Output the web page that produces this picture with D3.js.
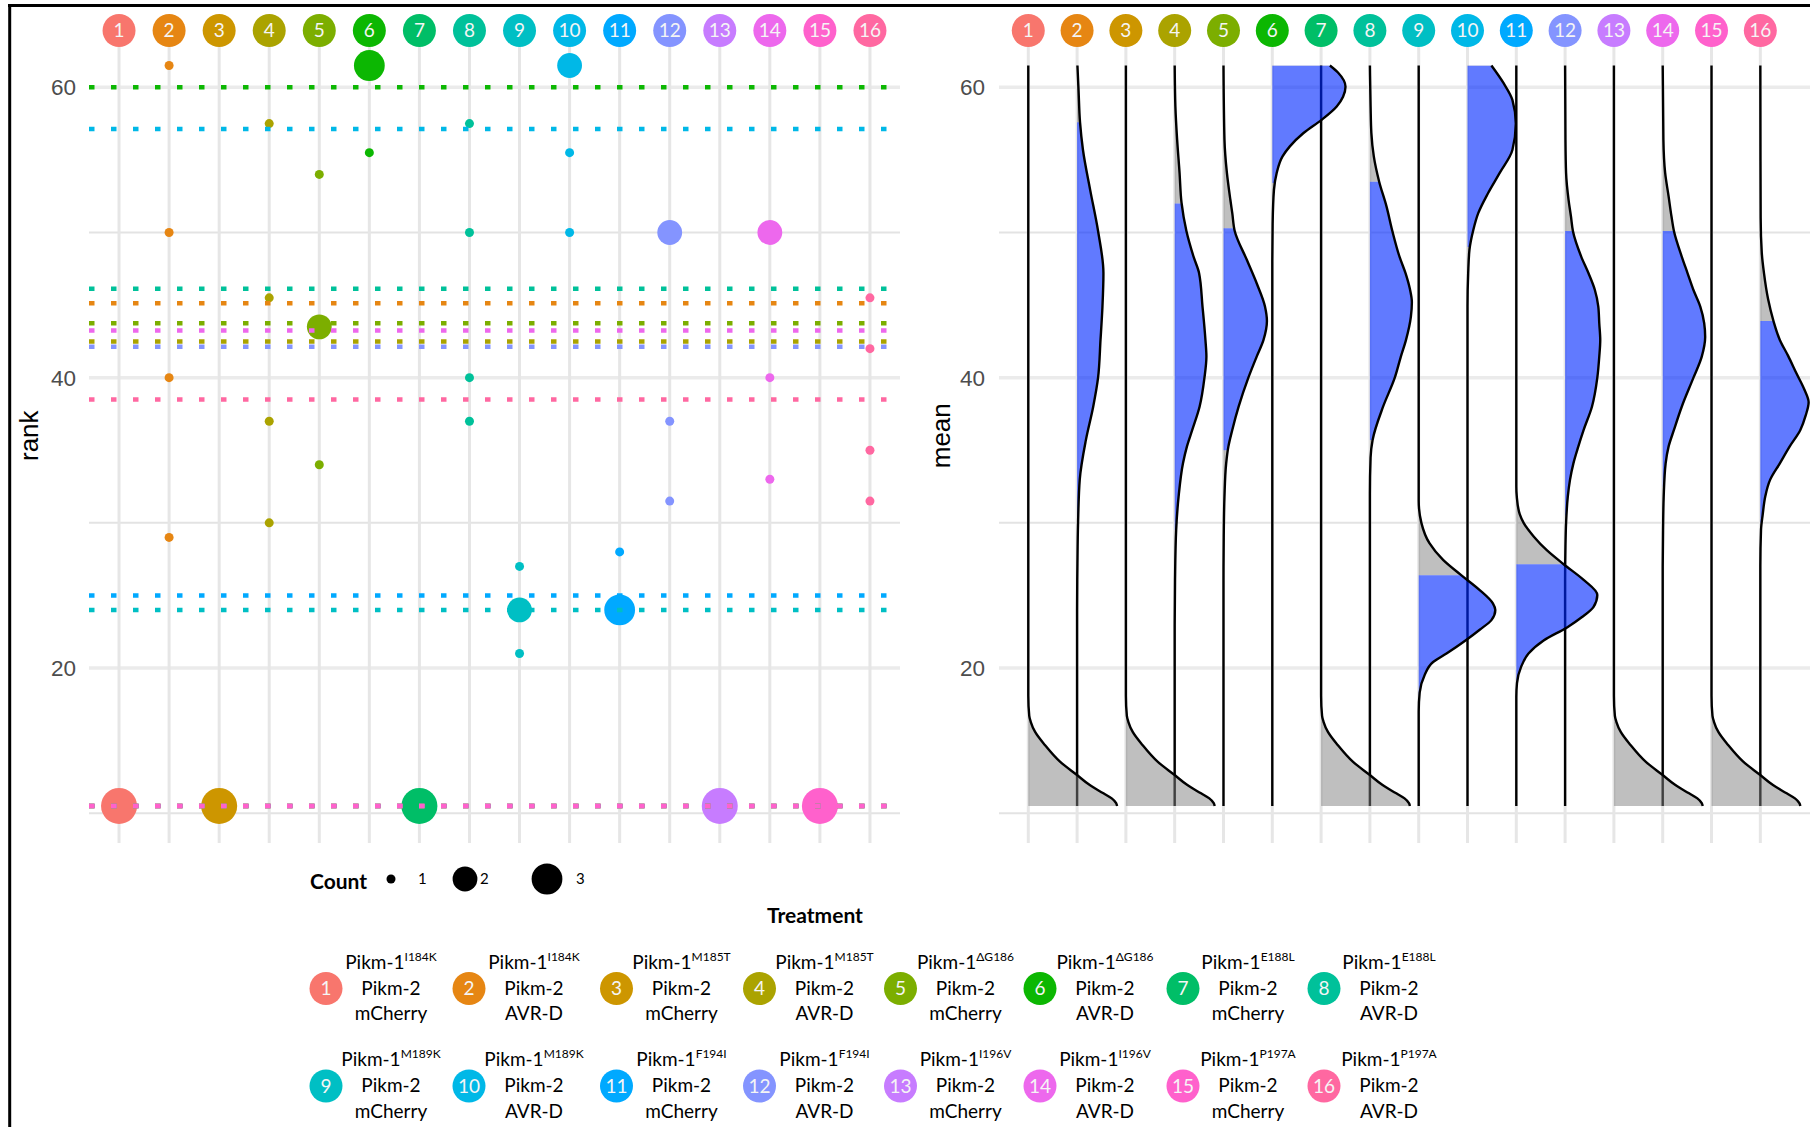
<!DOCTYPE html>
<html>
<head>
<meta charset="utf-8">
<script src="https://cdn.jsdelivr.net/npm/d3@7"></script>
<style>
  html, body { margin: 0; padding: 0; background: #fff; }
  svg { display: block; }
</style>
</head>
<body>
<svg id="chart" width="1810" height="1127"></svg>
<script>
// ---------- data ----------
const treatmentIds = d3.range(1, 17).map(String);
const pikm1Alleles = ["I184K", "I184K", "M185T", "M185T", "ΔG186", "ΔG186", "E188L", "E188L",
                      "M189K", "M189K", "F194I", "F194I", "I196V", "I196V", "P197A", "P197A"];
const effectors = ["mCherry", "AVR-D", "mCherry", "AVR-D", "mCherry", "AVR-D", "mCherry", "AVR-D",
                   "mCherry", "AVR-D", "mCherry", "AVR-D", "mCherry", "AVR-D", "mCherry", "AVR-D"];
const treatmentColors = ["#F8766D", "#E68613", "#CD9600", "#ABA300", "#7CAE00", "#0CB702", "#00BE67", "#00C19A",
                         "#00BFC4", "#00B8E7", "#00A9FF", "#8494FF", "#C77CFF", "#ED68ED", "#FF61CC", "#FF68A1"];

// observed ranks: [treatment, rank, number of replicates sharing that rank]
const rankObservations = [
  ["1", 10.5, 4],
  ["2", 61.5, 1], ["2", 50, 1], ["2", 40, 1], ["2", 29, 1],
  ["3", 10.5, 4],
  ["4", 57.5, 1], ["4", 45.5, 1], ["4", 37, 1], ["4", 30, 1],
  ["5", 54, 1], ["5", 43.5, 2], ["5", 34, 1],
  ["6", 61.5, 3], ["6", 55.5, 1],
  ["7", 10.5, 4],
  ["8", 57.5, 1], ["8", 50, 1], ["8", 40, 1], ["8", 37, 1],
  ["9", 27, 1], ["9", 24, 2], ["9", 21, 1],
  ["10", 61.5, 2], ["10", 55.5, 1], ["10", 50, 1],
  ["11", 28, 1], ["11", 24, 3],
  ["12", 50, 2], ["12", 37, 1], ["12", 31.5, 1],
  ["13", 10.5, 4],
  ["14", 50, 2], ["14", 40, 1], ["14", 33, 1],
  ["15", 10.5, 4],
  ["16", 45.5, 1], ["16", 42, 1], ["16", 35, 1], ["16", 31.5, 1]
];

const yTicks = [20, 40, 60];
const yMinorTicks = [10, 30, 50];
const countBreaks = [1, 2, 3];

// distribution of the mean rank: [mean, density (in column widths)]
const meanDensityLow = [[61.5, 0], [18.1, 0], [16.7, 0.02], [16.3, 0.05], [15.6, 0.14], [14.7, 0.34],
  [13.55, 0.65], [12.63, 1.0], [11.94, 1.26], [11.37, 1.54], [11.02, 1.71], [10.7, 1.8], [10.5, 1.82]];
const meanDensity2 = [[61.5, 0.007], [59.8, 0.03], [57.6, 0.06], [55.7, 0.12], [52.9, 0.27], [50.1, 0.43],
  [47.2, 0.54], [44.9, 0.52], [42.6, 0.48], [40, 0.43], [38, 0.33], [35.7, 0.18], [33, 0.055], [30, 0.02],
  [27.2, 0.007], [24, 0], [10.5, 0]];
const meanDensity4 = [[61.5, 0], [58.7, 0.014], [56.4, 0.05], [54.1, 0.1], [52.05, 0.14], [50.1, 0.24],
  [48.3, 0.39], [47.2, 0.5], [44.9, 0.57], [42.6, 0.63], [41.45, 0.65], [40, 0.61], [38, 0.51], [36.4, 0.36],
  [35.25, 0.25], [34.1, 0.17], [31.8, 0.08], [29.5, 0.03], [26.1, 0.007], [23, 0], [10.5, 0]];
const meanDensity5 = [[61.5, 0], [56.4, 0.02], [54.1, 0.07], [52.27, 0.14], [51.33, 0.18], [50.1, 0.23],
  [48.1, 0.48], [46.5, 0.68], [44.9, 0.85], [43.9, 0.89], [42.6, 0.82], [41.45, 0.68], [40, 0.51], [38, 0.31],
  [36.4, 0.18], [35.25, 0.1], [34.1, 0.055], [31.8, 0.02], [29, 0.005], [26, 0], [10.5, 0]];
const meanDensity6 = [[61.5, 1.18], [61.0, 1.35], [60.04, 1.5], [59.35, 1.45], [58.68, 1.32], [57.76, 1.01],
  [56.85, 0.64], [55.93, 0.36], [55.24, 0.21], [54.1, 0.09], [52.93, 0.034], [50.6, 0.007], [48, 0], [10.5, 0]];
const meanDensity8 = [[61.5, 0], [58.7, 0.014], [56.85, 0.03], [55.24, 0.08], [53.5, 0.19], [51.8, 0.34],
  [50.1, 0.46], [48.3, 0.61], [47.2, 0.73], [46.1, 0.82], [45.2, 0.86], [44.2, 0.84], [42.6, 0.74],
  [41.4, 0.63], [40, 0.51], [38, 0.27], [35.7, 0.055], [34.5, 0.014], [32, 0], [10.5, 0]];
const meanDensity9 = [[61.5, 0], [31.5, 0], [30.0, 0.055], [28.6, 0.22], [27.45, 0.5], [26.4, 0.87],
  [25.37, 1.25], [24.45, 1.52], [24.0, 1.57], [23.3, 1.49], [22.64, 1.25], [21.95, 0.98], [21.0, 0.57],
  [20.4, 0.29], [19.5, 0.12], [18.3, 0.02], [17.0, 0], [10.5, 0]];
const meanDensity10 = [[61.5, 0.49], [60.28, 0.74], [59.13, 0.92], [57.5, 0.99], [55.68, 0.92], [54.1, 0.66],
  [52.7, 0.42], [51.33, 0.22], [50.19, 0.12], [48.8, 0.04], [47.2, 0.014], [44.9, 0], [10.5, 0]];
const meanDensity11 = [[61.5, 0], [32.5, 0], [31.8, 0.01], [30.6, 0.07], [30.0, 0.15], [29.05, 0.36],
  [28.1, 0.63], [27.15, 0.97], [26.07, 1.38], [25.03, 1.66], [24.2, 1.58], [23.5, 1.34], [22.8, 1.04],
  [21.9, 0.56], [21.0, 0.25], [20.1, 0.1], [18.96, 0.014], [18, 0], [10.5, 0]];
const meanDensity12 = [[61.5, 0], [56.39, 0.007], [54.1, 0.02], [52.27, 0.07], [51.1, 0.12], [50.1, 0.16],
  [48.34, 0.33], [47.19, 0.48], [46.04, 0.61], [44.9, 0.68], [43.75, 0.7], [42.6, 0.72], [41.45, 0.7],
  [40, 0.66], [38, 0.55], [36.4, 0.38], [35.25, 0.27], [34.1, 0.17], [32.96, 0.1], [31.8, 0.055],
  [30, 0.02], [28.4, 0.007], [26, 0], [10.5, 0]];
const meanDensity14 = [[61.5, 0], [56.39, 0.014], [54.1, 0.05], [52.5, 0.12], [51.1, 0.18], [50.1, 0.23],
  [48.34, 0.39], [47.19, 0.51], [46.04, 0.63], [44.9, 0.77], [43.75, 0.85], [42.8, 0.87], [41.45, 0.8],
  [40, 0.63], [38, 0.39], [36.4, 0.23], [35.25, 0.12], [34.1, 0.06], [31.8, 0.02], [29.5, 0.007], [27, 0], [10.5, 0]];
const meanDensity16 = [[61.5, 0], [51, 0.007], [48.6, 0.03], [47.2, 0.075], [45.4, 0.16], [43.9, 0.27],
  [42.6, 0.4], [41.5, 0.57], [40.3, 0.74], [39.2, 0.9], [38.3, 0.99], [37.4, 0.93], [36.4, 0.82],
  [35.25, 0.6], [34.1, 0.4], [32.96, 0.2], [31.8, 0.1], [30.6, 0.05], [29.5, 0.014], [27, 0], [10.5, 0]];

const meanDensities = [meanDensityLow, meanDensity2, meanDensityLow, meanDensity4, meanDensity5, meanDensity6,
  meanDensityLow, meanDensity8, meanDensity9, meanDensity10, meanDensity11, meanDensity12,
  meanDensityLow, meanDensity14, meanDensityLow, meanDensity16];

// highlighted interval of each mean distribution: [low, high] (null = none)
const meanIntervals = [null, [29.5, 57.6], null, [29.5, 52.0], [35.0, 50.3], [53.4, 61.5], null, [35.7, 53.5],
  [18.1, 26.4], [49.0, 61.5], [19.0, 27.15], [30.5, 50.1], null, [32.5, 50.1], null, [30.0, 43.9]];

// ---------- layout ----------
const W = 1810, H = 1127;
const svg = d3.select("#chart");
svg.append("rect").attr("width", W).attr("height", H).attr("fill", "#fff");
const defs = svg.append("defs");

const color = d3.scaleOrdinal().domain(treatmentIds).range(treatmentColors);
const [rMin, rMax] = d3.extent(rankObservations, d => d[1]);
const rPad = (rMax - rMin) * 0.05;
const y = d3.scaleLinear().domain([rMin - rPad, rMax + rPad]).range([843, 28.5]);

const xLeft = d3.scalePoint().domain(treatmentIds).range([89, 900]).padding(0.6);
const xRight = d3.scalePoint().domain(treatmentIds).range([999, 1789.6]).padding(0.6);
const wScale = d3.scaleLinear().domain([0, 1]).range([0, xRight.step()]);
const size = d3.scaleLinear().domain([1, 2, 3, 4]).range([4.5, 12.4, 15.4, 18]);

const tickFont = "'Liberation Sans', Arial, sans-serif";
const legendFont = "Lato, 'Open Sans', sans-serif";
const headerY = 30.5;

function drawGrid(g, x, x0, x1) {
  const gridVals = yMinorTicks.concat(yTicks);
  g.selectAll("line.hgrid").data(gridVals).join("line").attr("class", "hgrid")
    .attr("x1", x0).attr("x2", x1)
    .attr("y1", d => y(d)).attr("y2", d => y(d))
    .attr("stroke", d => yTicks.includes(d) ? "#EBEBEB" : "#E3E3E3")
    .attr("stroke-width", d => yTicks.includes(d) ? 3.5 : 2);
  g.selectAll("line.vgrid").data(treatmentIds).join("line").attr("class", "vgrid")
    .attr("x1", d => x(d)).attr("x2", d => x(d))
    .attr("y1", headerY).attr("y2", y.range()[0])
    .attr("stroke", "#E6E6E6").attr("stroke-width", 3);
}

function drawTicks(g, xRightEdge) {
  g.selectAll("text.tick").data(yTicks).join("text").attr("class", "tick")
    .attr("x", xRightEdge).attr("y", d => y(d)).attr("dy", "0.36em")
    .attr("text-anchor", "end")
    .attr("font-family", tickFont).attr("font-size", 22.5).attr("fill", "#4D4D4D")
    .text(d => d);
}

function drawHeaders(g, x) {
  const hg = g.selectAll("g.hdr").data(treatmentIds).join("g").attr("class", "hdr")
    .attr("transform", d => `translate(${x(d)},${headerY})`);
  hg.append("circle").attr("r", 16.5).attr("fill", d => color(d));
  hg.append("text").text(d => d)
    .attr("text-anchor", "middle").attr("dy", "0.36em")
    .attr("fill", "#F5F5F5").attr("font-family", legendFont).attr("font-size", 19);
}

// ---------- left panel: ranks ----------
const left = svg.append("g");
drawGrid(left, xLeft, 89, 900);
drawTicks(left, 76);

left.selectAll("circle.obs").data(rankObservations).join("circle").attr("class", "obs")
  .attr("cx", d => xLeft(d[0])).attr("cy", d => y(d[1]))
  .attr("r", d => size(d[2])).attr("fill", d => color(d[0]));

const rankMeans = treatmentIds.map(id => {
  const obs = rankObservations.filter(d => d[0] === id);
  return [id, d3.sum(obs, d => d[1] * d[2]) / d3.sum(obs, d => d[2])];
});
left.selectAll("line.mean").data(rankMeans).join("line").attr("class", "mean")
  .attr("x1", 89).attr("x2", 900)
  .attr("y1", d => y(d[1])).attr("y2", d => y(d[1]))
  .attr("stroke", d => color(d[0])).attr("stroke-width", 4.5)
  .attr("stroke-dasharray", "5.5 16.5");

drawHeaders(left, xLeft);

left.append("text")
  .attr("transform", `translate(38,${(y.range()[0] + y.range()[1]) / 2}) rotate(-90)`)
  .attr("text-anchor", "middle").attr("font-family", tickFont).attr("font-size", 26)
  .attr("fill", "#000").text("rank");

// ---------- right panel: distribution of the mean ----------
const right = svg.append("g");
drawGrid(right, xRight, 999, W);
drawTicks(right, 985);

const slabs = right.append("g");
treatmentIds.slice().reverse().forEach(id => {
  const i = +id - 1;
  const cx = xRight(id);
  const dens = meanDensities[i].slice().sort((a, b) => b[0] - a[0]);
  const iv = meanIntervals[i];
  const yTop = y(dens[0][0]) - 2, yBot = y(dens[dens.length - 1][0]) + 2;

  const area = d3.area().curve(d3.curveMonotoneY)
    .y(d => y(d[0])).x0(cx).x1(d => cx + wScale(d[1]));
  const outline = d3.line().curve(d3.curveMonotoneY)
    .y(d => y(d[0])).x(d => cx + wScale(d[1]));

  const outClip = defs.append("clipPath").attr("id", `outside-${id}`);
  if (iv) {
    const inClip = defs.append("clipPath").attr("id", `inside-${id}`);
    inClip.append("rect").attr("x", cx - 3).attr("width", 260)
      .attr("y", y(iv[1])).attr("height", y(iv[0]) - y(iv[1]));
    outClip.append("rect").attr("x", cx - 3).attr("width", 260)
      .attr("y", yTop).attr("height", Math.max(0, y(iv[1]) - yTop));
    outClip.append("rect").attr("x", cx - 3).attr("width", 260)
      .attr("y", y(iv[0])).attr("height", Math.max(0, yBot - y(iv[0])));
  } else {
    outClip.append("rect").attr("x", cx - 3).attr("width", 260)
      .attr("y", yTop).attr("height", yBot - yTop);
  }

  const sg = slabs.append("g");
  sg.append("path").attr("d", area(dens))
    .attr("fill", "rgb(128,128,128)").attr("fill-opacity", 0.5)
    .attr("clip-path", `url(#outside-${id})`);
  if (iv) {
    sg.append("path").attr("d", area(dens))
      .attr("fill", "rgb(0,40,255)").attr("fill-opacity", 0.62)
      .attr("clip-path", `url(#inside-${id})`);
  }
  sg.append("path").attr("d", outline(dens))
    .attr("fill", "none").attr("stroke", "#000").attr("stroke-width", 2.4);
});

drawHeaders(right, xRight);

right.append("text")
  .attr("transform", `translate(950,${(y.range()[0] + y.range()[1]) / 2}) rotate(-90)`)
  .attr("text-anchor", "middle").attr("font-family", tickFont).attr("font-size", 26)
  .attr("fill", "#000").text("mean");

// ---------- legends ----------
const legend = svg.append("g").attr("font-family", legendFont);

// size legend
const countKeyX = [391, 465, 547];
const countLabelX = [418, 480, 576];
const countY = 879;
legend.append("text").attr("x", 310).attr("y", 889)
  .attr("font-weight", 700).attr("font-size", 21).attr("fill", "#000").text("Count");
legend.selectAll("circle.ckey").data(countBreaks).join("circle").attr("class", "ckey")
  .attr("cx", (d, i) => countKeyX[i]).attr("cy", countY).attr("r", d => size(d)).attr("fill", "#000");
legend.selectAll("text.clab").data(countBreaks).join("text").attr("class", "clab")
  .attr("x", (d, i) => countLabelX[i]).attr("y", countY + 5)
  .attr("font-size", 15).attr("fill", "#000").text(d => d);

// treatment legend
legend.append("text").attr("x", 815).attr("y", 923).attr("text-anchor", "middle")
  .attr("font-weight", 700).attr("font-size", 21).attr("fill", "#000").text("Treatment");

const legendColX = [326, 469, 616.5, 759.5, 900.5, 1040, 1183, 1324];
const legendRowY = [988.5, 1086];
const items = legend.selectAll("g.titem").data(treatmentIds).join("g").attr("class", "titem")
  .attr("transform", (d, i) => `translate(${legendColX[i % 8]},${legendRowY[Math.floor(i / 8)]})`);
items.append("circle").attr("r", 16.5).attr("fill", d => color(d));
items.append("text").attr("text-anchor", "middle").attr("dy", "0.36em")
  .attr("font-size", 19).attr("fill", "#F5F5F5").text(d => d);

const line1 = items.append("text").attr("x", 65).attr("y", -20).attr("text-anchor", "middle")
  .attr("font-size", 19).attr("fill", "#000");
line1.append("tspan").text("Pikm-1");
line1.append("tspan").attr("dy", -8).attr("font-size", 12).text((d, i) => pikm1Alleles[i]);
items.append("text").attr("x", 65).attr("y", 6).attr("text-anchor", "middle")
  .attr("font-size", 19).attr("fill", "#000").text("Pikm-2");
items.append("text").attr("x", 65).attr("y", 31.5).attr("text-anchor", "middle")
  .attr("font-size", 19).attr("fill", "#000").text((d, i) => effectors[i]);

// frame edges
svg.append("line").attr("x1", 8).attr("x2", W).attr("y1", 5.5).attr("y2", 5.5)
  .attr("stroke", "#000").attr("stroke-width", 3);
svg.append("line").attr("x1", 9.7).attr("x2", 9.7).attr("y1", 4).attr("y2", H)
  .attr("stroke", "#000").attr("stroke-width", 3);
</script>
</body>
</html>
